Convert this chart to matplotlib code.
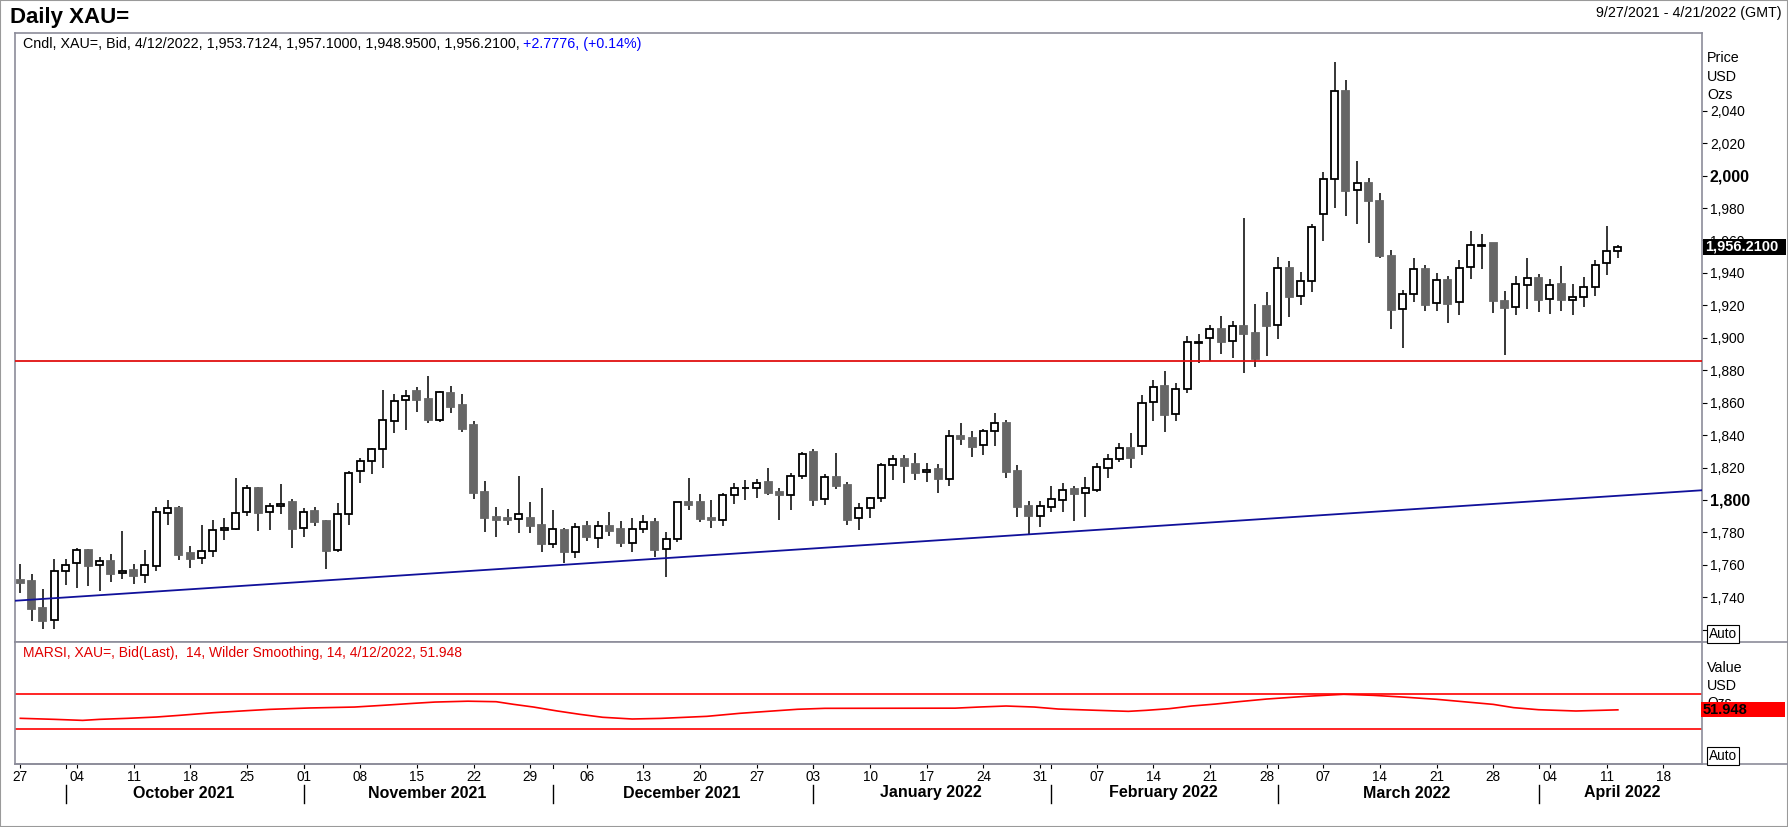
"""
Daily XAU= candlestick chart with support / resistance lines and a
smoothed RSI panel underneath (Eikon-style layout).
"""

import matplotlib
matplotlib.use("Agg")
import matplotlib.pyplot as plt
import matplotlib.transforms as mtransforms
from matplotlib.lines import Line2D
from matplotlib.patches import Rectangle
import pandas as pd

plt.rcParams["font.family"] = ["Liberation Sans", "DejaVu Sans"]

# ── data ─────────────────────────────────────────────────────────────
TITLE = "Daily XAU="
RANGE_TEXT = "9/27/2021 - 4/21/2022 (GMT)"
INFO_TEXT = "Cndl, XAU=, Bid, 4/12/2022, 1,953.7124, 1,957.1000, 1,948.9500, 1,956.2100,"
INFO_CHANGE = "+2.7776, (+0.14%)"
RSI_TEXT = "MARSI, XAU=, Bid(Last),  14, Wilder Smoothing, 14, 4/12/2022, 51.948"

dates = pd.bdate_range("2021-09-27", "2022-04-12")
axis_dates = pd.bdate_range("2021-09-27", "2022-04-21")

opens = [1750.7, 1750.1, 1733.4, 1725.8, 1756.0, 1761.0, 1769.0, 1759.7, 1762.4, 1754.8,
         1756.8, 1753.6, 1759.1, 1791.8, 1795.1, 1767.3, 1764.0, 1768.4, 1781.3, 1781.9,
         1792.4, 1807.4, 1792.4, 1796.1, 1798.8, 1782.5, 1793.2, 1786.8, 1769.0, 1791.2,
         1817.7, 1823.8, 1831.2, 1848.5, 1861.7, 1867.0, 1862.3, 1849.5, 1866.0, 1858.6,
         1846.2, 1804.7, 1789.5, 1788.9, 1788.1, 1788.9, 1784.4, 1772.7, 1781.5, 1767.7,
         1784.0, 1776.4, 1784.0, 1782.1, 1773.7, 1781.9, 1786.4, 1769.6, 1776.2, 1798.6,
         1798.8, 1788.9, 1787.9, 1802.9, 1807.2, 1807.2, 1811.1, 1804.9, 1802.9, 1814.6,
         1829.6, 1800.4, 1814.2, 1809.2, 1788.7, 1794.9, 1801.0, 1821.4, 1825.3, 1822.2,
         1817.3, 1819.1, 1812.7, 1839.5, 1838.2, 1833.7, 1842.5, 1847.5, 1817.9, 1796.3,
         1789.9, 1795.5, 1799.8, 1806.8, 1804.1, 1806.0, 1819.5, 1825.1, 1831.9, 1833.0,
         1860.2, 1870.3, 1852.8, 1868.2, 1897.0, 1899.7, 1905.2, 1897.8, 1907.3, 1902.8,
         1919.4, 1907.7, 1942.8, 1925.6, 1934.8, 1976.1, 1997.7, 2052.0, 1990.9, 1995.2,
         1984.1, 1950.4, 1917.5, 1926.8, 1942.2, 1921.2, 1935.6, 1921.9, 1943.4, 1956.8,
         1958.4, 1922.7, 1919.2, 1932.3, 1936.9, 1923.7, 1933.0, 1923.1, 1924.9, 1931.1,
         1945.9, 1953.7124]
highs = [1760.5, 1754.4, 1745.1, 1763.4, 1763.4, 1770.6, 1769.6, 1764.9, 1766.7, 1780.9,
         1760.5, 1769.0, 1795.7, 1800.0, 1796.3, 1771.5, 1784.8, 1787.7, 1788.7, 1813.8,
         1809.2, 1808.2, 1798.4, 1809.9, 1800.6, 1795.1, 1795.9, 1787.7, 1798.0, 1817.7,
         1825.7, 1831.9, 1867.8, 1865.4, 1867.8, 1869.9, 1876.7, 1867.4, 1870.3, 1865.4,
         1848.7, 1811.7, 1795.9, 1794.7, 1814.8, 1798.8, 1807.6, 1794.0, 1782.5, 1785.6,
         1786.8, 1786.8, 1792.4, 1786.8, 1788.9, 1790.8, 1788.7, 1780.1, 1799.0, 1813.6,
         1803.5, 1800.0, 1804.3, 1810.5, 1812.3, 1812.9, 1819.9, 1807.4, 1816.4, 1829.4,
         1831.4, 1815.8, 1829.0, 1810.9, 1797.9, 1802.1, 1822.6, 1827.7, 1827.7, 1829.0,
         1822.8, 1822.2, 1843.2, 1847.7, 1842.5, 1843.8, 1853.8, 1849.3, 1821.6, 1799.2,
         1799.4, 1808.6, 1810.5, 1808.8, 1814.2, 1822.6, 1828.2, 1834.9, 1841.3, 1864.7,
         1874.0, 1879.5, 1871.9, 1901.1, 1902.3, 1907.9, 1913.4, 1910.4, 1973.7, 1920.6,
         1928.0, 1949.6, 1947.3, 1940.4, 1970.0, 2002.0, 2069.8, 2058.9, 2009.0, 1998.5,
         1989.1, 1954.1, 1929.5, 1949.0, 1944.9, 1939.9, 1937.9, 1948.0, 1965.8, 1964.0,
         1958.6, 1929.1, 1938.1, 1949.0, 1939.3, 1936.3, 1944.3, 1933.2, 1937.5, 1948.0,
         1968.9, 1957.1]
lows = [1742.5, 1725.6, 1720.3, 1720.3, 1747.6, 1746.0, 1747.0, 1744.1, 1749.4, 1751.3,
        1748.4, 1748.8, 1756.4, 1784.8, 1763.0, 1758.3, 1760.7, 1765.1, 1775.1, 1781.5,
        1790.3, 1780.9, 1781.5, 1791.3, 1770.6, 1777.4, 1784.0, 1757.3, 1768.0, 1784.4,
        1810.7, 1816.2, 1819.9, 1841.5, 1843.4, 1854.5, 1847.7, 1848.3, 1853.8, 1842.1,
        1800.8, 1780.5, 1777.4, 1784.8, 1779.9, 1779.9, 1768.0, 1770.6, 1761.0, 1764.4,
        1774.7, 1770.6, 1778.0, 1771.2, 1768.1, 1779.9, 1765.1, 1752.7, 1774.3, 1794.0,
        1786.4, 1782.9, 1784.2, 1797.7, 1800.0, 1801.4, 1803.3, 1787.9, 1794.0, 1813.2,
        1796.5, 1797.1, 1807.0, 1784.8, 1781.7, 1789.1, 1799.0, 1812.5, 1810.7, 1812.5,
        1811.3, 1804.5, 1808.8, 1834.1, 1826.7, 1827.9, 1833.5, 1813.8, 1789.7, 1779.0,
        1783.6, 1792.8, 1792.8, 1787.3, 1789.3, 1805.0, 1813.8, 1823.2, 1819.9, 1828.0,
        1848.9, 1842.0, 1848.9, 1866.2, 1884.7, 1885.7, 1890.2, 1887.8, 1878.1, 1882.2,
        1889.0, 1899.5, 1913.0, 1920.2, 1928.4, 1959.9, 1980.2, 1975.3, 1970.0, 1958.2,
        1949.0, 1905.6, 1893.9, 1922.3, 1916.7, 1916.7, 1909.3, 1914.3, 1936.0, 1942.6,
        1915.5, 1889.2, 1914.3, 1918.0, 1916.1, 1914.9, 1916.7, 1914.3, 1919.2, 1926.0,
        1938.9, 1948.95]
closes = [1749.0, 1733.0, 1725.6, 1756.0, 1759.7, 1769.0, 1759.5, 1762.2, 1754.6, 1756.2,
          1753.4, 1759.7, 1792.4, 1794.9, 1766.3, 1763.8, 1768.4, 1781.3, 1782.5, 1791.8,
          1807.2, 1792.2, 1796.1, 1797.7, 1782.3, 1792.4, 1786.6, 1768.8, 1791.2, 1816.4,
          1823.8, 1831.2, 1849.1, 1860.8, 1863.9, 1861.9, 1849.5, 1866.4, 1857.5, 1844.0,
          1804.5, 1789.1, 1787.9, 1787.9, 1791.2, 1784.2, 1772.9, 1781.9, 1767.9, 1783.1,
          1777.4, 1783.8, 1781.1, 1773.7, 1781.9, 1786.2, 1769.4, 1776.2, 1798.6, 1797.1,
          1788.5, 1787.9, 1802.9, 1807.2, 1807.6, 1810.3, 1804.5, 1803.3, 1814.6, 1828.2,
          1800.2, 1814.0, 1808.8, 1787.9, 1794.9, 1801.2, 1821.4, 1825.1, 1821.2, 1816.9,
          1818.3, 1813.2, 1839.3, 1837.8, 1832.9, 1842.5, 1847.5, 1817.5, 1795.9, 1790.3,
          1796.3, 1800.4, 1806.0, 1803.9, 1807.2, 1820.1, 1825.1, 1831.9, 1826.1, 1859.6,
          1869.9, 1852.6, 1868.2, 1897.2, 1897.4, 1905.2, 1897.6, 1907.1, 1902.5, 1887.1,
          1907.5, 1942.8, 1925.4, 1934.8, 1968.1, 1997.7, 2052.0, 1990.7, 1995.6, 1984.5,
          1950.6, 1917.3, 1927.2, 1942.2, 1920.4, 1935.4, 1921.0, 1942.8, 1957.0, 1957.0,
          1922.9, 1918.6, 1933.0, 1936.7, 1923.5, 1932.3, 1923.5, 1924.9, 1931.5, 1945.1,
          1953.3, 1956.21]

# trend line anchors (candle index, price) and horizontal resistance
support_x = [0, 148]
support_y = [1738.1, 1805.8]
resistance = 1885.5

# smoothed RSI, read as vertices (candle index, value)
rsi_x = [0, 3, 5.5, 7, 9.5, 12, 14, 17, 20, 22,
         25.5, 29.5, 32, 34.7, 36.6, 39.5, 42, 43.5, 45.3, 47.4,
         49.4, 51.4, 54, 56.5, 60.6, 63.5, 66.4, 68.6, 71, 82.5,
         84.6, 87, 89.5, 91.6, 95, 97.8, 99.4, 101.4, 103.4, 105.5,
         107.5, 110, 113.4, 116.8, 119.4, 121.9, 125, 127.7, 130, 131.8,
         134, 137.3, 141]
rsi_v = [42.1, 40.9, 39.7, 40.9, 42.1, 43.6, 45.5, 48.6, 51.0, 52.5,
         54.1, 55.2, 57.2, 59.5, 61.0, 62.0, 61.4, 58.4, 55.2, 50.6,
         46.7, 43.3, 41.3, 42.0, 44.4, 47.9, 50.6, 52.6, 53.7, 53.9,
         55.2, 56.4, 55.2, 52.9, 51.4, 50.2, 51.4, 53.3, 56.4, 58.7,
         61.4, 64.5, 67.6, 70.0, 68.8, 66.9, 64.2, 61.0, 58.3, 54.5,
         52.1, 50.6, 51.948]
rsi_levels = [30, 70]

price_ticks = list(range(1720, 2041, 20))
bold_ticks = [1800, 2000]

# ── layout helpers (pixel -> figure fraction) ────────────────────────
W_PX, H_PX = 1788.0, 827.0
FRAME = "#8c8c9a"
DOWN = "#666666"


def fx(px):
    return px / W_PX


def fy(py):
    return 1.0 - py / H_PX


fig = plt.figure(figsize=(17.88, 8.27), dpi=100)
fig.patch.set_facecolor("white")

left, right = 15.0, 1701.7
ax = fig.add_axes([fx(left), fy(642), fx(right) - fx(left), fy(33) - fy(642)])
axr = fig.add_axes([fx(left), fy(764), fx(right) - fx(left), fy(642) - fy(764)])

xlim = (-0.47, 148.4)

# ── candles ──────────────────────────────────────────────────────────
idx = list(range(len(dates)))
ax.vlines(idx, lows, highs, color="black", lw=1.1, zorder=2)
bw = 0.62
for i, o, c in zip(idx, opens, closes):
    up = c >= o
    bottom = min(o, c)
    height = max(abs(c - o), 0.05)
    ax.add_patch(Rectangle((i - bw / 2, bottom), bw, height,
                           facecolor="white" if up else DOWN,
                           edgecolor="black" if up else DOWN,
                           lw=1.3, zorder=3))

ax.axline((support_x[0], support_y[0]), (support_x[1], support_y[1]),
          color="#10109a", lw=1.3, zorder=4)
ax.axhline(resistance, color="#e01010", lw=1.3, zorder=4)

ax.set_xlim(*xlim)
ax.set_ylim(1712.45, 2087.9)
ax.set_xticks([])
ax.yaxis.tick_right()
ax.set_yticks(price_ticks)
ax.set_yticklabels(["" if v == 1720 else f"{v:,}" for v in price_ticks])
ax.tick_params(axis="y", direction="out", length=3.6, width=0.8, pad=2.2,
               labelsize=10, colors="black")
for v, lab in zip(price_ticks, ax.get_yticklabels()):
    if v in bold_ticks:
        lab.set_fontweight("bold")
        lab.set_fontsize(11.5)
for s in ax.spines.values():
    s.set_color(FRAME)
    s.set_linewidth(1.2)

# last price box
blend_main = mtransforms.blended_transform_factory(ax.transAxes, ax.transData)
box_w = 83 / (right - left)
ax.add_patch(Rectangle((1.0006, closes[-1] - 4.9), box_w, 9.8, transform=blend_main,
                       facecolor="black", edgecolor="none", clip_on=False, zorder=10))
ax.text(1.0006 + 2 / (right - left), closes[-1], "1,956.2100", transform=blend_main,
        color="white", fontweight="bold", fontsize=10.5, ha="left", va="center",
        clip_on=False, zorder=11)

# ── RSI panel ────────────────────────────────────────────────────────
axr.plot(rsi_x, rsi_v, color="#ff0000", lw=1.2, zorder=3)
for lvl in rsi_levels:
    axr.axhline(lvl, color="#ff0000", lw=1.2, zorder=2)
axr.set_xlim(*xlim)
axr.set_ylim(-11, 130.8)
axr.set_yticks([])
for name, s in axr.spines.items():
    s.set_color(FRAME)
    s.set_linewidth(1.2)
axr.spines["top"].set_visible(False)

blend_rsi = mtransforms.blended_transform_factory(axr.transAxes, axr.transData)
axr.text(fx(1707), fy(703), "Ozs", transform=fig.transFigure, fontsize=10,
         va="center", clip_on=False, zorder=5)
axr.add_patch(Rectangle((0.9995, rsi_v[-1] - 8.7), 84 / (right - left), 17.4,
                        transform=blend_rsi, facecolor="#ff0000", edgecolor="none",
                        clip_on=False, zorder=10))
axr.text(1.0005, rsi_v[-1], "51.948", transform=blend_rsi, color="black",
         fontweight="bold", fontsize=10.5, ha="left", va="center",
         clip_on=False, zorder=11)

# date axis: Monday ticks, month separators and month names
mondays = [i for i, d in enumerate(axis_dates) if d.weekday() == 0]
axr.set_xticks(mondays)
axr.set_xticklabels([axis_dates[i].strftime("%d") for i in mondays])
axr.tick_params(axis="x", direction="out", length=3, width=0.8, pad=1.5,
                labelsize=9.8, colors="black")

blend_date = mtransforms.blended_transform_factory(axr.transData, fig.transFigure)
months = pd.Series(range(len(axis_dates)), index=axis_dates).groupby(axis_dates.to_period("M"))
for k, (period, grp) in enumerate(months):
    first, last = grp.iloc[0], grp.iloc[-1]
    if k > 0:
        axr.plot([first, first], [fy(764), fy(768)], transform=blend_date,
                 color="black", lw=0.8, clip_on=False)
        axr.plot([first, first], [fy(785), fy(803)], transform=blend_date,
                 color="black", lw=1.0, clip_on=False)
    if last - first >= 9:
        axr.text((first + last) / 2 + 0.4, fy(793), period.strftime("%B %Y"),
                 transform=blend_date, ha="center", va="center",
                 fontweight="bold", fontsize=11.5)

# ── frame lines and text ─────────────────────────────────────────────
for py in (642, 764):
    fig.add_artist(Line2D([fx(left), 1.0], [fy(py), fy(py)], transform=fig.transFigure,
                          color=FRAME, lw=1.2))
fig.add_artist(Rectangle((0, 0), 1, 1, transform=fig.transFigure, fill=False,
                         edgecolor="#9a9a9a", lw=1.5))

fig.text(fx(10), fy(17), TITLE, fontsize=16, fontweight="bold", va="center")
fig.text(fx(1782), fy(13), RANGE_TEXT, fontsize=10.3, ha="right", va="center")
info = fig.text(fx(23), fy(44), INFO_TEXT, fontsize=10.3, va="center")
ax.annotate(INFO_CHANGE, xy=(1, 0), xycoords=info, xytext=(2.5, 0),
            textcoords="offset points", fontsize=10.3, color="#0000ff",
            ha="left", va="bottom", annotation_clip=False)
fig.text(fx(23), fy(653), RSI_TEXT, fontsize=10, color="#e00000", va="center")

for py, label in ((58, "Price"), (77, "USD"), (95, "Ozs"), (668, "Value"), (686, "USD")):
    fig.text(fx(1707), fy(py), label, fontsize=10.3, va="center")
for py in (634, 756):
    fig.text(fx(1709), fy(py), "Auto", fontsize=9.8, va="center",
             bbox=dict(boxstyle="square,pad=0.12", facecolor="white",
                       edgecolor="black", lw=0.8))

fig.savefig("out.png", dpi=100)
